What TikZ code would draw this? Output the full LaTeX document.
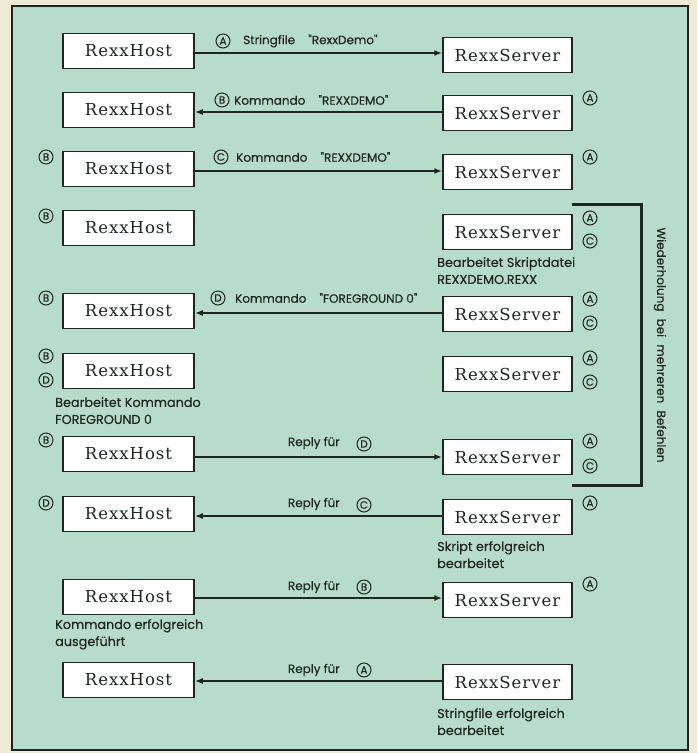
\documentclass[tikz,border=0pt]{standalone}
\usepackage{fontspec}
\newfontfamily\sansf[FakeBold=0.4]{Poppins}
\newfontfamily\boxf[LetterSpace=6]{DejaVu Serif}
\usetikzlibrary{arrows.meta}
\definecolor{bgout}{HTML}{EFEBD6}
\definecolor{bgin}{HTML}{B8DCCB}
\definecolor{ink}{HTML}{1E2620}
\tikzset{
  box/.style={draw=ink,fill=white,line width=1.5pt,minimum height=35pt,inner sep=0pt,font=\boxf\fontsize{16.5}{19}\selectfont,text=ink},
  host/.style={box,minimum width=131pt},
  server/.style={box,minimum width=129pt},
  arr/.style={draw=ink,line width=1.6pt,-{Latex[length=8pt,width=6pt]}},
  cl/.style={circle,draw=ink,line width=1pt,inner sep=0pt,minimum size=14pt,text=ink,font=\sansf\fontsize{10.5}{10.5}\selectfont},
  lbl/.style={inner sep=0pt,text=ink,font=\sansf\fontsize{12}{13}\selectfont},
  note/.style={inner sep=0pt,text=ink,align=left,font=\sansf\fontsize{12.8}{17}\selectfont},
}
\begin{document}
\begin{tikzpicture}[x=1pt,y=-1pt]
\useasboundingbox (0,0) rectangle (697,753);
\fill[bgout] (0,0) rectangle (697,753);
\draw[ink,line width=2pt,fill=bgin] (12,6) rectangle (688,750);

% row 1
\node[host] (h1) at (128.5,51) {RexxHost};
\node[server] (s1) at (507.5,55) {RexxServer};
\draw[arr] (h1.east |- 0,53) -- (s1.west |- 0,53);
\node[cl] (c1a) at (223,41) {A};
\node[lbl,anchor=west] (t1) at (243,41) {Stringfile\hspace{1.1em}"RexxDemo"};

% row 2
\node[host] (h2) at (128.5,110) {RexxHost};
\node[server] (s2) at (507.5,113) {RexxServer};
\draw[arr] (s2.west |- 0,112) -- (h2.east |- 0,112);
\node[cl] (c2b) at (222,100) {B};
\node[lbl,anchor=west] (t2) at (234,100) {Kommando\hspace{1.1em}"REXXDEMO"};
\node[cl] (r2a) at (590,98) {A};

% row 3
\node[host] (h3) at (128.5,169) {RexxHost};
\node[server] (s3) at (507.5,172) {RexxServer};
\draw[arr] (h3.east |- 0,171) -- (s3.west |- 0,171);
\node[cl] (c3c) at (221,157) {C};
\node[lbl,anchor=west] (t3) at (236,157) {Kommando\hspace{1.1em}"REXXDEMO"};
\node[cl] (l3b) at (46,157) {B};
\node[cl] (r3a) at (590,157) {A};

% row 4
\node[host] (h4) at (128.5,228) {RexxHost};
\node[server] (s4) at (507.5,232) {RexxServer};
\node[cl] (l4b) at (46,216) {B};
\node[cl] (r4a) at (590,218) {A};
\node[cl] (r4c) at (590,241) {C};
\node[note,anchor=north west] (n4) at (437,257) {Bearbeitet Skriptdatei\\REXXDEMO.REXX};

% row 5
\node[host] (h5) at (128.5,311) {RexxHost};
\node[server] (s5) at (507.5,314) {RexxServer};
\draw[arr] (s5.west |- 0,313) -- (h5.east |- 0,313);
\node[cl] (c5d) at (218,298) {D};
\node[lbl,anchor=west] (t5) at (235,298) {Kommando\hspace{1.1em}"FOREGROUND 0"};
\node[cl] (l5b) at (46,298) {B};
\node[cl] (r5a) at (590,299) {A};
\node[cl] (r5c) at (590,323) {C};

% row 6
\node[host] (h6) at (128.5,371) {RexxHost};
\node[server] (s6) at (507.5,374) {RexxServer};
\node[cl] (l6b) at (46,356) {B};
\node[cl] (l6d) at (46,380) {D};
\node[cl] (r6a) at (590,358) {A};
\node[cl] (r6c) at (590,382) {C};
\node[note,anchor=north west] (n6) at (55,397) {Bearbeitet Kommando\\FOREGROUND 0};

% row 7
\node[host] (h7) at (128.5,454) {RexxHost};
\node[server] (s7) at (507.5,457) {RexxServer};
\draw[arr] (h7.east |- 0,457) -- (s7.west |- 0,457);
\node[lbl,anchor=east] (t7) at (340,443) {Reply für};
\node[cl] (c7d) at (364,444) {D};
\node[cl] (l7b) at (46,440) {B};
\node[cl] (r7a) at (590,441) {A};
\node[cl] (r7c) at (590,466) {C};

% row 8
\node[host] (h8) at (128.5,514) {RexxHost};
\node[server] (s8) at (507.5,517) {RexxServer};
\draw[arr] (s8.west |- 0,516) -- (h8.east |- 0,516);
\node[lbl,anchor=east] (t8) at (340,504) {Reply für};
\node[cl] (c8c) at (364,505) {C};
\node[cl] (l8d) at (46,503) {D};
\node[cl] (r8a) at (590,503) {A};
\node[note,anchor=north west] (n8) at (437,541) {Skript erfolgreich\\bearbeitet};

% row 9
\node[host] (h9) at (128.5,597) {RexxHost};
\node[server] (s9) at (507.5,600) {RexxServer};
\draw[arr] (h9.east |- 0,598) -- (s9.west |- 0,598);
\node[lbl,anchor=east] (t9) at (340,587) {Reply für};
\node[cl] (c9b) at (364,587) {B};
\node[cl] (r9a) at (590,584) {A};
\node[note,anchor=north west] (n9) at (55,619) {Kommando erfolgreich\\ausgeführt};

% row 10
\node[host] (h10) at (128.5,680) {RexxHost};
\node[server] (s10) at (507.5,682) {RexxServer};
\draw[arr] (s10.west |- 0,681) -- (h10.east |- 0,681);
\node[lbl,anchor=east] (t10) at (340,670) {Reply für};
\node[cl] (c10a) at (364,670) {A};
\node[note,anchor=north west] (n10) at (437,708) {Stringfile erfolgreich\\bearbeitet};

% bracket
\coordinate (b1) at (572,204);
\coordinate (b2) at (641,204);
\coordinate (b3) at (641,485);
\coordinate (b4) at (572,485);
\draw[ink,line width=3pt] (b1) -- (b2) -- (b3) -- (b4);
\node[lbl,rotate=-90] (rep) at (660,345) {Wiederholung\hspace{0.6em}bei\hspace{0.6em}mehreren\hspace{0.6em}Befehlen};
\end{tikzpicture}
\end{document}
